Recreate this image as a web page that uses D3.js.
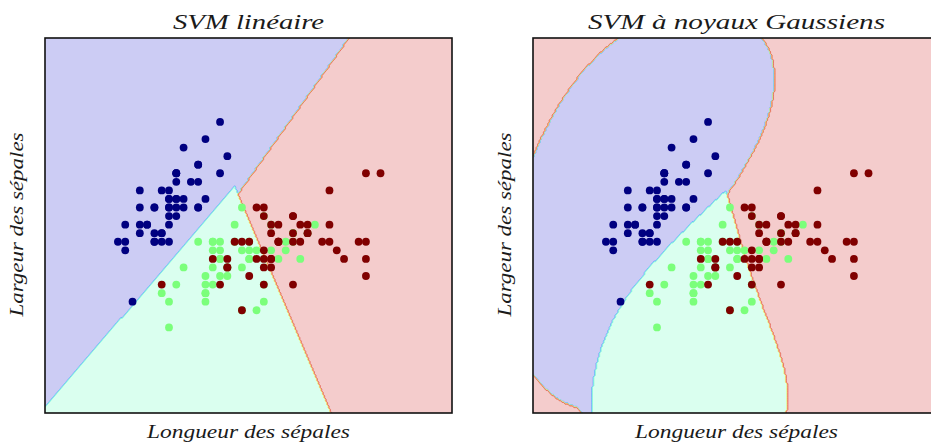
<!DOCTYPE html>
<html>
<head>
<meta charset="utf-8">
<script src="https://cdn.jsdelivr.net/npm/d3@7"></script>
<style>
  body { margin: 0; background: #fff; }
  svg { display: block; }
  text { font-family: "Liberation Serif", "DejaVu Serif", serif; font-style: italic; fill: #1a1a1a; }
</style>
</head>
<body>
<script>
// Iris data, first two features (sepal length, sepal width) and species 0/1/2
const sepalLength = [
  5.1,4.9,4.7,4.6,5.0,5.4,4.6,5.0,4.4,4.9,5.4,4.8,4.8,4.3,5.8,5.7,5.4,5.1,5.7,5.1,5.4,5.1,4.6,5.1,4.8,
  5.0,5.0,5.2,5.2,4.7,4.8,5.4,5.2,5.5,4.9,5.0,5.5,4.9,4.4,5.1,5.0,4.5,4.4,5.0,5.1,4.8,5.1,4.6,5.3,5.0,
  7.0,6.4,6.9,5.5,6.5,5.7,6.3,4.9,6.6,5.2,5.0,5.9,6.0,6.1,5.6,6.7,5.6,5.8,6.2,5.6,5.9,6.1,6.3,6.1,6.4,
  6.6,6.8,6.7,6.0,5.7,5.5,5.5,5.8,6.0,5.4,6.0,6.7,6.3,5.6,5.5,5.5,6.1,5.8,5.0,5.6,5.7,5.7,6.2,5.1,5.7,
  6.3,5.8,7.1,6.3,6.5,7.6,4.9,7.3,6.7,7.2,6.5,6.4,6.8,5.7,5.8,6.4,6.5,7.7,7.7,6.0,6.9,5.6,7.7,6.3,6.7,
  7.2,6.2,6.1,6.4,7.2,7.4,7.9,6.4,6.3,6.1,7.7,6.3,6.4,6.0,6.9,6.7,6.9,5.8,6.8,6.7,6.7,6.3,6.5,6.2,5.9];
const sepalWidth = [
  3.5,3.0,3.2,3.1,3.6,3.9,3.4,3.4,2.9,3.1,3.7,3.4,3.0,3.0,4.0,4.4,3.9,3.5,3.8,3.8,3.4,3.7,3.6,3.3,3.4,
  3.0,3.4,3.5,3.4,3.2,3.1,3.4,4.1,4.2,3.1,3.2,3.5,3.6,3.0,3.4,3.5,2.3,3.2,3.5,3.8,3.0,3.8,3.2,3.7,3.3,
  3.2,3.2,3.1,2.3,2.8,2.8,3.3,2.4,2.9,2.7,2.0,3.0,2.2,2.9,2.9,3.1,3.0,2.7,2.2,2.5,3.2,2.8,2.5,2.8,2.9,
  3.0,2.8,3.0,2.9,2.6,2.4,2.4,2.7,2.7,3.0,3.4,3.1,2.3,3.0,2.5,2.6,3.0,2.6,2.3,2.7,3.0,2.9,2.9,2.5,2.8,
  3.3,2.7,3.0,2.9,3.0,3.0,2.5,2.9,2.5,3.6,3.2,2.7,3.0,2.5,2.8,3.2,3.0,3.8,2.6,2.2,3.2,2.8,2.8,2.7,3.3,
  3.2,2.8,3.0,2.8,3.0,2.8,3.8,2.8,2.8,2.6,3.0,3.4,3.1,3.0,3.1,3.1,3.1,2.7,3.2,3.3,3.0,2.5,3.0,3.4,3.0];
const species = [
  0,0,0,0,0,0,0,0,0,0,0,0,0,0,0,0,0,0,0,0,0,0,0,0,0,0,0,0,0,0,0,0,0,0,0,0,0,0,0,0,0,0,0,0,0,0,0,0,0,0,
  1,1,1,1,1,1,1,1,1,1,1,1,1,1,1,1,1,1,1,1,1,1,1,1,1,1,1,1,1,1,1,1,1,1,1,1,1,1,1,1,1,1,1,1,1,1,1,1,1,1,
  2,2,2,2,2,2,2,2,2,2,2,2,2,2,2,2,2,2,2,2,2,2,2,2,2,2,2,2,2,2,2,2,2,2,2,2,2,2,2,2,2,2,2,2,2,2,2,2,2,2];

const titles = ["SVM linéaire", "SVM à noyaux Gaussiens"];
const kernels = ["linear", "rbf"];
const gamma = 0.7, C = 1.0;
const xLabel = "Longueur des sépales";
const yLabel = "Largeur des sépales";

// mesh, like np.arange(min - 1, max + 1, h)
const h = 0.02;
const xMin = 3.3, xMax = 8.9, yMin = 1.0, yMax = 5.4;

const W = 931, H = 445;
const panelLeft = [45, 533], panelTop = 38, panelW = 407, panelH = 375;

// matplotlib jet colormap
const jetR = [[0,0],[0.35,0],[0.66,1],[0.89,1],[1,0.5]];
const jetG = [[0,0],[0.125,0],[0.375,1],[0.64,1],[0.91,0],[1,0]];
const jetB = [[0,0.5],[0.11,1],[0.34,1],[0.65,0],[1,0]];
function chan(seg, t) {
  for (let k = 0; k < seg.length - 1; k++) {
    if (t <= seg[k+1][0]) {
      const f = (t - seg[k][0]) / (seg[k+1][0] - seg[k][0]);
      return seg[k][1] + f * (seg[k+1][1] - seg[k][1]);
    }
  }
  return seg[seg.length-1][1];
}
function jet(t, alpha) {
  alpha = alpha == null ? 1 : alpha;
  const c = [chan(jetR, t), chan(jetG, t), chan(jetB, t)]
    .map(v => Math.round(255 * (1 - alpha + alpha * v)));
  return d3.rgb(c[0], c[1], c[2]).formatHex();
}

// ---- small libsvm-style SMO solver ----
function kernelFn(type) {
  if (type === "linear") return (a, b) => a[0]*b[0] + a[1]*b[1];
  return (a, b) => {
    const dx = a[0]-b[0], dy = a[1]-b[1];
    return Math.exp(-gamma * (dx*dx + dy*dy));
  };
}

function solveBinary(X, y, K, Cc, eps) {
  const n = y.length, TAU = 1e-12;
  const Km = X.map(a => X.map(b => K(a, b)));
  const Q = (i, j) => y[i] * y[j] * Km[i][j];
  const alpha = new Float64Array(n), G = new Float64Array(n).fill(-1);
  for (let iter = 0; iter < 200000; iter++) {
    let Gmax = -Infinity, Gmax2 = -Infinity, i = -1;
    for (let t = 0; t < n; t++) {
      if (y[t] === 1) { if (alpha[t] < Cc && -G[t] >= Gmax) { Gmax = -G[t]; i = t; } }
      else { if (alpha[t] > 0 && G[t] >= Gmax) { Gmax = G[t]; i = t; } }
    }
    if (i < 0) break;
    let j = -1, objMin = Infinity;
    for (let t = 0; t < n; t++) {
      if (y[t] === 1) {
        if (alpha[t] > 0) {
          const gd = Gmax + G[t];
          if (G[t] >= Gmax2) Gmax2 = G[t];
          if (gd > 0) {
            let qc = Km[i][i] + Km[t][t] - 2 * y[i] * Q(i, t);
            const od = -(gd*gd) / (qc > 0 ? qc : TAU);
            if (od <= objMin) { j = t; objMin = od; }
          }
        }
      } else {
        if (alpha[t] < Cc) {
          const gd = Gmax - G[t];
          if (-G[t] >= Gmax2) Gmax2 = -G[t];
          if (gd > 0) {
            let qc = Km[i][i] + Km[t][t] + 2 * y[i] * Q(i, t);
            const od = -(gd*gd) / (qc > 0 ? qc : TAU);
            if (od <= objMin) { j = t; objMin = od; }
          }
        }
      }
    }
    if (Gmax + Gmax2 < eps || j < 0) break;

    const ai = alpha[i], aj = alpha[j];
    if (y[i] !== y[j]) {
      let qc = Km[i][i] + Km[j][j] + 2 * Q(i, j);
      if (qc <= 0) qc = TAU;
      const delta = (-G[i] - G[j]) / qc, diff = alpha[i] - alpha[j];
      alpha[i] += delta; alpha[j] += delta;
      if (diff > 0) { if (alpha[j] < 0) { alpha[j] = 0; alpha[i] = diff; } }
      else { if (alpha[i] < 0) { alpha[i] = 0; alpha[j] = -diff; } }
      if (diff > 0) { if (alpha[i] > Cc) { alpha[i] = Cc; alpha[j] = Cc - diff; } }
      else { if (alpha[j] > Cc) { alpha[j] = Cc; alpha[i] = Cc + diff; } }
    } else {
      let qc = Km[i][i] + Km[j][j] - 2 * Q(i, j);
      if (qc <= 0) qc = TAU;
      const delta = (G[i] - G[j]) / qc, sum = alpha[i] + alpha[j];
      alpha[i] -= delta; alpha[j] += delta;
      if (sum > Cc) { if (alpha[i] > Cc) { alpha[i] = Cc; alpha[j] = sum - Cc; } }
      else { if (alpha[j] < 0) { alpha[j] = 0; alpha[i] = sum; } }
      if (sum > Cc) { if (alpha[j] > Cc) { alpha[j] = Cc; alpha[i] = sum - Cc; } }
      else { if (alpha[i] < 0) { alpha[i] = 0; alpha[j] = sum; } }
    }
    const di = alpha[i] - ai, dj = alpha[j] - aj;
    for (let k = 0; k < n; k++) G[k] += Q(i, k) * di + Q(j, k) * dj;
  }
  // rho
  let ub = Infinity, lb = -Infinity, sumFree = 0, nFree = 0;
  for (let t = 0; t < n; t++) {
    const yG = y[t] * G[t];
    if (alpha[t] >= Cc) { if (y[t] === -1) ub = Math.min(ub, yG); else lb = Math.max(lb, yG); }
    else if (alpha[t] <= 0) { if (y[t] === 1) ub = Math.min(ub, yG); else lb = Math.max(lb, yG); }
    else { nFree++; sumFree += yG; }
  }
  const rho = nFree > 0 ? sumFree / nFree : (ub + lb) / 2;
  const sv = [], coef = [];
  for (let t = 0; t < n; t++) if (alpha[t] > 0) { sv.push(X[t]); coef.push(alpha[t] * y[t]); }
  return { sv, coef, rho };
}

function fitOvO(type) {
  const K = kernelFn(type);
  const pts = sepalLength.map((v, i) => [v, sepalWidth[i]]);
  const models = [];
  for (let a = 0; a < 3; a++) for (let b = a + 1; b < 3; b++) {
    const idx = species.map((s, i) => i).filter(i => species[i] === a || species[i] === b);
    const m = solveBinary(idx.map(i => pts[i]), idx.map(i => species[i] === a ? 1 : -1), K, C, 1e-3);
    m.a = a; m.b = b;
    if (type === "linear") {
      m.w = [d3.sum(m.sv, (s, k) => m.coef[k] * s[0]), d3.sum(m.sv, (s, k) => m.coef[k] * s[1])];
    }
    models.push(m);
  }
  return p => {
    const votes = [0, 0, 0];
    for (const m of models) {
      let f;
      if (m.w) f = m.w[0]*p[0] + m.w[1]*p[1] - m.rho;
      else { f = -m.rho; for (let k = 0; k < m.sv.length; k++) f += m.coef[k] * K(m.sv[k], p); }
      votes[f > 0 ? m.a : m.b]++;
    }
    let best = 0;
    for (let c = 1; c < 3; c++) if (votes[c] > votes[best]) best = c;
    return best;
  };
}

// ---- drawing ----
const xs = d3.range(xMin, xMax - 1e-9, h);
const ys = d3.range(yMin, yMax - 1e-9, h);
const nx = xs.length, ny = ys.length;

// contourf levels (MaxNLocator on 0..2) and band colours with alpha 0.2
const levels = d3.range(0, 2.0001, 0.25);
const bandMid = levels.slice(0, -1).map((l, k) => (l + levels[k+1]) / 4);
const bandColor = bandMid.map(t => jet(t, 0.2));
const edgeColor = bandMid.map(t => jet(t, 0.6));

const svg = d3.select("body").append("svg").attr("width", W).attr("height", H);

titles.forEach((title, pi) => {
  const left = panelLeft[pi];
  const x = d3.scaleLinear().domain([xs[0], xs[nx-1]]).range([left, left + panelW]);
  const y = d3.scaleLinear().domain([ys[0], ys[ny-1]]).range([panelTop + panelH, panelTop]);

  const predict = fitOvO(kernels[pi]);
  const Z = new Float64Array(nx * ny);
  for (let j = 0; j < ny; j++) for (let i = 0; i < nx; i++) Z[i + j * nx] = predict([xs[i], ys[j]]);

  const clipId = "clip" + pi;
  svg.append("clipPath").attr("id", clipId)
    .append("rect").attr("x", left).attr("y", panelTop).attr("width", panelW).attr("height", panelH);

  const g = svg.append("g").attr("clip-path", `url(#${clipId})`);
  g.append("rect").attr("x", left).attr("y", panelTop).attr("width", panelW).attr("height", panelH)
    .attr("fill", bandColor[0]);

  const path = d3.geoPath(d3.geoTransform({
    point(u, v) { this.stream.point(x(xs[0] + (u - 0.5) * h), y(ys[0] + (v - 0.5) * h)); }
  }));
  const contours = d3.contours().size([nx, ny])
    .thresholds(levels.slice(1, -1).map(l => l + 1e-6))(Z);
  g.selectAll("path.band").data(contours).join("path")
    .attr("class", "band")
    .attr("d", path)
    .attr("fill", (d, k) => bandColor[k + 1]);
  // edges of the filled bands, as the antialiased contourf shows them
  g.selectAll("path.edge").data(contours).join("path")
    .attr("class", "edge")
    .attr("d", path)
    .attr("fill", "none")
    .attr("stroke", (d, k) => edgeColor[k + 1])
    .attr("stroke-width", 0.8);

  g.selectAll("circle").data(species).join("circle")
    .attr("cx", (d, i) => x(sepalLength[i]))
    .attr("cy", (d, i) => y(sepalWidth[i]))
    .attr("r", 3.9)
    .attr("fill", d => jet(d / 2));

  svg.append("rect").attr("x", left).attr("y", panelTop).attr("width", panelW).attr("height", panelH)
    .attr("fill", "none").attr("stroke", "#111").attr("stroke-width", 1.6);

  const cx = left + panelW / 2;
  svg.append("text").attr("x", cx).attr("y", 28.5).attr("text-anchor", "middle")
    .attr("font-size", 21).attr("textLength", pi === 0 ? 151 : 297).attr("lengthAdjust", "spacingAndGlyphs")
    .text(title);
  svg.append("text").attr("x", cx).attr("y", 437.5).attr("text-anchor", "middle")
    .attr("font-size", 18).attr("textLength", 203).attr("lengthAdjust", "spacingAndGlyphs")
    .text(xLabel);
  svg.append("text")
    .attr("transform", `translate(${left - 22},${panelTop + panelH / 2 - 1}) rotate(-90)`)
    .attr("text-anchor", "middle")
    .attr("font-size", 18).attr("textLength", 184).attr("lengthAdjust", "spacingAndGlyphs")
    .text(yLabel);
});
</script>
</body>
</html>
